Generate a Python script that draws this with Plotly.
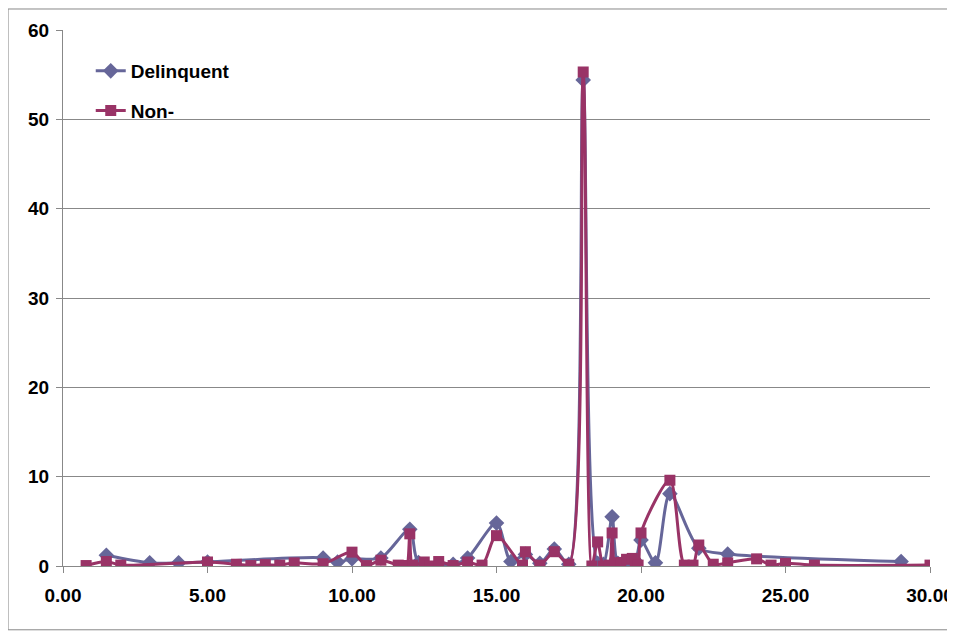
import plotly.graph_objects as go

# Delinquent series
del_x = [1.5, 3, 4, 5, 9, 9.5, 10, 11, 12, 12.3, 13.5, 14, 15, 15.5, 16, 16.5, 17, 17.5,
         18, 18.5, 18.7, 19, 19.2, 19.5, 19.8, 20, 20.5, 21, 22, 23, 29]
del_y = [1.2, 0.35, 0.35, 0.45, 0.9, 0.45, 0.8, 0.9, 4.1, 0.4, 0.2, 0.9, 4.8, 0.5, 1.3, 0.3, 1.9, 0.2,
         54.4, 0.3, 0.2, 5.5, 0.3, 0.5, 0.6, 2.9, 0.35, 8.1, 2.0, 1.35, 0.5]

# Non-delinquent series
non_x = [0.8, 1.5, 2, 5, 6, 6.5, 7, 7.5, 8, 9, 10, 10.5, 11, 11.6, 11.8, 11.9, 12, 12.1, 12.5, 12.7,
         13, 13.5, 14, 14.5, 15, 15.9, 16, 16.5, 17, 17.5, 18, 18.3, 18.5, 18.7, 18.9, 19, 19.1, 19.3,
         19.5, 19.7, 19.8, 19.9, 20, 21, 21.5, 21.8, 22, 22.5, 23, 24, 24.5, 25, 26, 30]
non_y = [0.05, 0.5, 0.1, 0.45, 0.2, 0.05, 0.15, 0.1, 0.35, 0.25, 1.55, 0.05, 0.65, 0.1, 0.05, 0.05, 3.6, 0.1, 0.45, 0.0,
         0.5, 0.05, 0.45, 0.1, 3.4, 0.1, 1.6, 0.1, 1.6, 0.2, 55.3, 0.0, 2.7, 0.0, 0.1, 3.7, 0.3, 0.4,
         0.75, 0.85, 0.3, 0.1, 3.7, 9.6, 0.1, 0.1, 2.35, 0.2, 0.35, 0.8, 0.1, 0.3, 0.1, 0.1]

series_names = ["Delinquent", "Non-"]
x_ticks = [0, 5, 10, 15, 20, 25, 30]
y_ticks = [0, 10, 20, 30, 40, 50, 60]

BLUE = "#666699"
PLUM = "#993366"
FONT = dict(family="Liberation Sans, Arial, sans-serif", size=19, color="black", weight="bold")

fig = go.Figure()
fig.add_trace(go.Scatter(
    x=del_x, y=del_y, name=series_names[0], mode="lines+markers", legendgroup="a",
    line=dict(color=BLUE, width=3, shape="spline", smoothing=0.8),
    marker=dict(symbol="diamond", size=12, color=BLUE),
))
fig.add_trace(go.Scatter(
    x=non_x, y=non_y, name=series_names[1], mode="lines+markers", legendgroup="b",
    line=dict(color=PLUM, width=3, shape="spline", smoothing=0.8),
    marker=dict(symbol="square", size=11, color=PLUM),
))

fig.update_layout(
    width=947, height=624,
    margin=dict(l=55, r=25, t=22, b=66),
    paper_bgcolor="white", plot_bgcolor="white",
    font=FONT,
    legend=dict(x=0.032, y=0.959, xanchor="left", yanchor="top",
                traceorder="grouped", tracegroupgap=12,
                bgcolor="rgba(0,0,0,0)", font=FONT),
    xaxis=dict(range=[0, 30], tickvals=x_ticks, ticktext=[f"{v:.2f}" for v in x_ticks],
               showgrid=False, zeroline=False, showline=True, linecolor="#888888", linewidth=1,
               ticks="outside", ticklen=6, tickcolor="#888888", tickfont=FONT, automargin=False,
               ticklabelstandoff=6),
    yaxis=dict(range=[0, 60], tickvals=y_ticks, showgrid=True, gridcolor="#888888", gridwidth=1,
               zeroline=False, showline=True, linecolor="#888888", linewidth=1,
               ticks="outside", ticklen=6, tickcolor="#888888", tickfont=FONT, automargin=False,
               ticklabelstandoff=3),
    shapes=[dict(type="rect", xref="paper", yref="paper",
                 x0=-0.0634, x1=1.0254, y0=-0.119, y1=1.0392,
                 line=dict(color="#888888", width=1))],
)

fig.write_html("out.html")
